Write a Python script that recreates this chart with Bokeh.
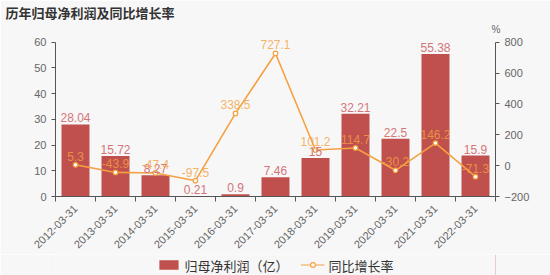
from bokeh.plotting import figure
from bokeh.layouts import column
from bokeh.models import (Range1d, LinearAxis, FixedTicker, ColumnDataSource,
                          Legend, LegendItem, LabelSet, Title)
from bokeh.core.properties import value
from bokeh.embed import file_html
from bokeh.resources import INLINE

# Annual net profit attributable to parent (100M CNY) and YoY growth (%)
dates = ["2012-03-31", "2013-03-31", "2014-03-31", "2015-03-31", "2016-03-31",
         "2017-03-31", "2018-03-31", "2019-03-31", "2020-03-31", "2021-03-31",
         "2022-03-31"]
profit = [28.04, 15.72, 8.27, 0.21, 0.9, 7.46, 15, 32.21, 22.5, 55.38, 15.9]
growth = [5.3, -43.9, -47.4, -97.5, 338.5, 727.1, 101.2, 114.7, -30.2, 146.2, -71.3]
profit_labels = ["28.04", "15.72", "8.27", "0.21", "0.9", "7.46", "15", "32.21",
                 "22.5", "55.38", "15.9"]
growth_labels = ["5.3", "-43.9", "-47.4", "-97.5", "338.5", "727.1", "101.2",
                 "114.7", "-30.2", "146.2", "-71.3"]
left_ticks = [0, 10, 20, 30, 40, 50, 60]
right_ticks = [-200, 0, 200, 400, 600, 800]

BG = "#f7f7f7"
BAR = "#c0504d"
LINE = "#f5a142"
AXIS = "#555555"
TICK_TXT = "#666666"
NUM_FONT = "Liberation Sans"
CJK_FONT = "Noto Sans CJK SC"

xs = list(range(len(dates)))
src = ColumnDataSource(dict(x=xs, profit=profit, growth=growth,
                            plab=profit_labels, glab=growth_labels))

# ranges carry a little headroom above the top tick so labels near it fit;
# the axis lines themselves stop at the last tick via `bounds`
p = figure(width=550, height=254, output_backend="svg", toolbar_location=None,
           x_range=Range1d(-0.5, len(dates) - 0.5), y_range=Range1d(0, 63),
           min_border_left=55, min_border_right=55, min_border_top=32,
           min_border_bottom=58, background_fill_color=BG,
           border_fill_color=BG, outline_line_color=None,
           title="历年归母净利润及同比增长率")
p.title.text_font = CJK_FONT
p.title.text_font_size = "13px"
p.title.text_font_style = "bold"
p.title.text_color = "#333333"
p.title.offset = -50
p.title.standoff = 0
p.extra_y_ranges = {"pct": Range1d(-200, 850)}
p.xgrid.visible = False
p.ygrid.visible = False

# unit caption over the right-hand axis
p.add_layout(Title(text="%", align="right", offset=-5, standoff=0,
                   text_font=NUM_FONT, text_font_size="10px",
                   text_font_style="normal", text_color=TICK_TXT), "above")

# x axis: labels at centres, ticks at category boundaries
xa = p.xaxis[0]
xa.ticker = FixedTicker(ticks=xs, minor_ticks=[i - 0.5 for i in range(len(dates) + 1)])
xa.major_label_overrides = {i: d for i, d in enumerate(dates)}
xa.major_label_orientation = 0.785
xa.major_tick_line_color = None
xa.minor_tick_line_color = AXIS
xa.minor_tick_out = 5
xa.minor_tick_in = 0
xa.axis_line_color = AXIS
xa.major_label_text_color = TICK_TXT
xa.major_label_text_font = NUM_FONT
xa.major_label_text_font_size = "11px"
xa.major_label_standoff = 4

ya = p.yaxis[0]
ya.ticker = FixedTicker(ticks=left_ticks)
ya.bounds = (left_ticks[0], left_ticks[-1])
ya.axis_line_color = AXIS
ya.major_tick_line_color = AXIS
ya.major_tick_out = 4
ya.major_tick_in = 0
ya.minor_tick_line_color = None
ya.major_label_text_color = TICK_TXT
ya.major_label_text_font = NUM_FONT
ya.major_label_text_font_size = "11px"

ra = LinearAxis(y_range_name="pct", ticker=FixedTicker(ticks=right_ticks),
                bounds=(right_ticks[0], right_ticks[-1]))
ra.axis_line_color = AXIS
ra.major_tick_line_color = AXIS
ra.major_tick_out = 4
ra.major_tick_in = 0
ra.minor_tick_line_color = None
ra.major_label_text_color = TICK_TXT
ra.major_label_text_font = NUM_FONT
ra.major_label_text_font_size = "11px"
p.add_layout(ra, "right")

p.vbar(x="x", top="profit", width=0.7, source=src, fill_color=BAR,
       line_color=None)
p.line(x="x", y="growth", source=src, y_range_name="pct",
       line_color=LINE, line_width=1.6)
p.scatter(x="x", y="growth", source=src, y_range_name="pct", size=4.5,
          fill_color="white", line_color=LINE, line_width=1.2)

p.add_layout(LabelSet(x="x", y="profit", text="plab", source=src,
                      text_align="center", text_baseline="bottom", y_offset=2,
                      text_color="#d47679", text_font=value(NUM_FONT),
                      text_font_size="12px"))
p.add_layout(LabelSet(x="x", y="growth", text="glab", source=src,
                      y_range_name="pct", text_align="center",
                      text_baseline="bottom", y_offset=4, text_color=LINE,
                      text_alpha=0.8, text_font=value(NUM_FONT),
                      text_font_size="12px"))

# legend strip underneath the chart; its sample glyphs sit outside the range
leg = figure(width=550, height=21, output_backend="svg", toolbar_location=None,
             x_range=Range1d(0, 1), y_range=Range1d(0, 1), min_border=0,
             background_fill_color=BG, border_fill_color=BG,
             outline_line_color=None)
leg.axis.visible = False
leg.grid.visible = False
sample = ColumnDataSource(dict(x=[5], y=[5], top=[5]))
lb = leg.vbar(x="x", top="top", width=0.1, source=sample, fill_color=BAR,
              line_color=None)
ll = leg.line(x="x", y="y", source=sample, line_color=LINE, line_width=1.2)
lp = leg.scatter(x="x", y="y", source=sample, size=8, fill_color="white",
                 line_color=LINE, line_width=1.2)
legend = Legend(items=[LegendItem(label="归母净利润（亿）", renderers=[lb]),
                       LegendItem(label="同比增长率", renderers=[ll, lp])],
                orientation="horizontal", location="center",
                background_fill_alpha=0, border_line_color=None,
                label_text_font=CJK_FONT, label_text_font_size="13px",
                label_text_color="#333333", glyph_width=24, glyph_height=12,
                spacing=12, padding=0, margin=0, label_standoff=4)
leg.add_layout(legend)

open("out.html", "w").write(file_html(column(p, leg, spacing=0), INLINE))
